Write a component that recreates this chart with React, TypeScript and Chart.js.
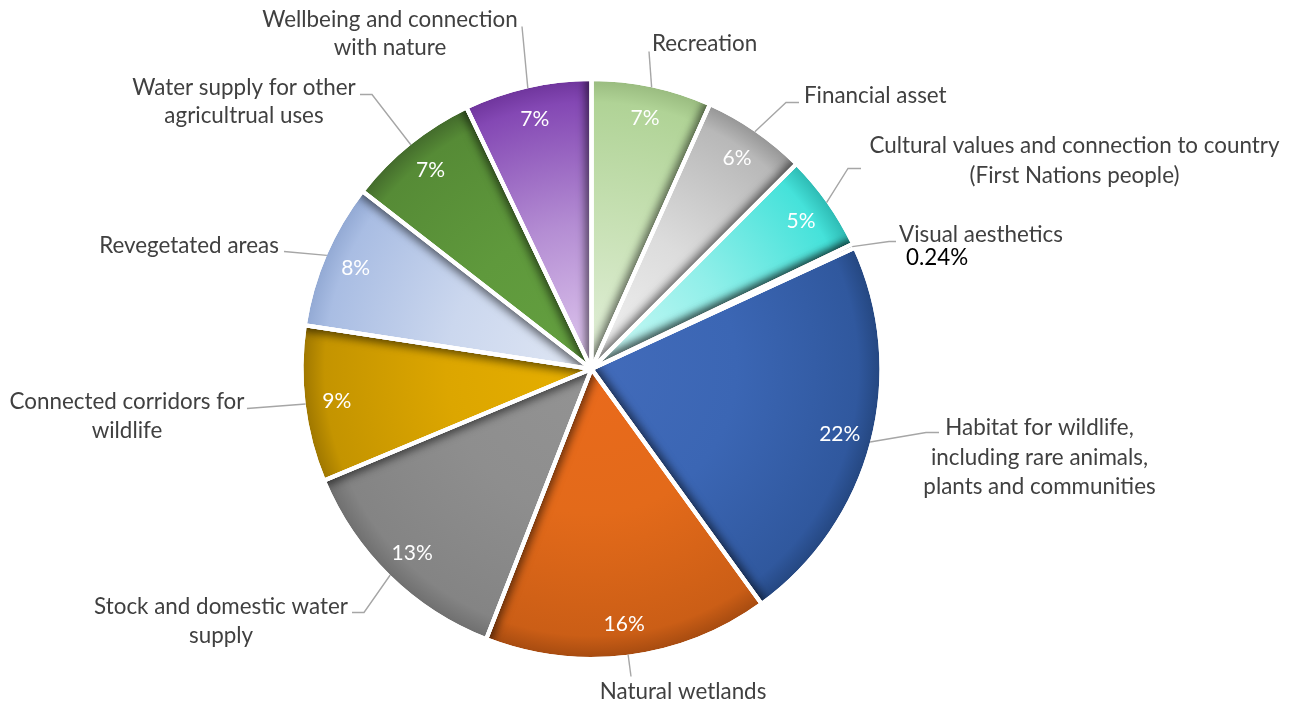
import React, { useEffect, useRef } from "react";
import { Chart, registerables } from "chart.js";

Chart.register(...registerables);

// ---------- data ----------
const CATEGORIES: string[] = [
  "Recreation",
  "Financial asset",
  "Cultural values and connection to country (First Nations people)",
  "Visual aesthetics",
  "Habitat for wildlife, including rare animals, plants and communities",
  "Natural wetlands",
  "Stock and domestic water supply",
  "Connected corridors for wildlife",
  "Revegetated areas",
  "Water supply for other agricultrual uses",
  "Wellbeing and connection with nature",
];
const VALUES: number[] = [6.7, 5.8, 5.4, 0.24, 21.9, 15.9, 12.8, 8.7, 8.1, 7.4, 7.1];

// label text as wrapped in the chart
const LABEL_LINES: string[][] = [
  ["Recreation"],
  ["Financial asset"],
  ["Cultural values and connection to country", "(First Nations people)"],
  ["Visual aesthetics"],
  ["Habitat for wildlife,", "including rare animals,", "plants and communities"],
  ["Natural wetlands"],
  ["Stock and domestic water", "supply"],
  ["Connected corridors for", "wildlife"],
  ["Revegetated areas"],
  ["Water supply for other", "agricultrual uses"],
  ["Wellbeing and connection", "with nature"],
];

// ---------- styles ----------
// radial gradient stops: centre -> rim
const STOPS: string[][] = [
  ["#e4f0dc", "#c8e1b5", "#b0d396", "#98ba7e"],
  ["#f3f3f3", "#dcdcdc", "#b8b8b8", "#949494"],
  ["#d3faf7", "#90efe9", "#45e2da", "#2cb8b1"],
  ["#4a74c0", "#3d66b0", "#2f5597", "#22406f"],
  ["#426bba", "#3b66b4", "#30589e", "#24467f"],
  ["#ea6a1c", "#e36a1a", "#cb5e16", "#a44a10"],
  ["#939393", "#8e8e8e", "#848484", "#6e6e6e"],
  ["#e6af00", "#dca600", "#c49400", "#9c7500"],
  ["#e0e7f4", "#cbd7ee", "#a9bde3", "#91a8d3"],
  ["#64a040", "#5f993c", "#568b36", "#42692b"],
  ["#e2ccf0", "#b48dd3", "#8448b4", "#6e349b"],
];
const STOP_POS = [0, 0.5, 0.92, 1];

// label layout: offsets (px) from pie centre
type Layout = { path: number[][]; x: number; ys: number[]; align: CanvasTextAlign };
const LAYOUT: Layout[] = [
  { path: [[57.5, -317.5]], x: 60.5, ys: [-325.5], align: "left" },
  { path: [[194.5, -266.5], [207.5, -266.5]], x: 212.5, ys: [-273.5], align: "left" },
  { path: [[256.5, -200.5], [269.5, -200.5]], x: 483, ys: [-223.5, -193.5], align: "center" },
  { path: [[297.5, -127.5], [304.5, -127.5]], x: 307.5, ys: [-134.5], align: "left" },
  { path: [[334.5, 63.5], [347.5, 63.5]], x: 448, ys: [58.5, 88.5, 117.5], align: "center" },
  { path: [[39.5, 307.5]], x: 91.5, ys: [322.5], align: "center" },
  { path: [[-227.5, 243.5], [-239.5, 243.5]], x: -370.5, ys: [237.5, 266.5], align: "center" },
  { path: [[-344.5, 39.5]], x: -464.5, ys: [32.5, 61.5], align: "center" },
  { path: [[-307.5, -117.5]], x: -402.5, ys: [-123.5], align: "center" },
  { path: [[-219.5, -274.5], [-231.5, -274.5]], x: -347.5, ys: [-281.5, -253.5], align: "center" },
  { path: [[-69.5, -342.5]], x: -201.5, ys: [-349.5, -321.5], align: "center" },
];
const SMALL_VALUE_OFFSET = { x: 314.5, y: -111.5 }; // "0.24%" under Visual aesthetics

const FONT_FAMILY = "Lato, 'Liberation Sans', sans-serif";
const LABEL_FONT = 22.4;
const PCT_FONT = 21;
const BORDER = 4;

function pctText(v: number, total: number): string {
  const p = (v / total) * 100;
  return p < 1 ? p.toFixed(2) + "%" : Math.round(p) + "%";
}

function sliceFill(ctx: any) {
  const chart = ctx.chart;
  const area = chart.chartArea;
  const i = ctx.dataIndex;
  if (!area || i === undefined) return STOPS[i ?? 0][2];
  const ctrl: any = chart.getDatasetMeta(0).controller;
  const cx = (area.left + area.right) / 2 + (ctrl.offsetX || 0);
  const cy = (area.top + area.bottom) / 2 + (ctrl.offsetY || 0);
  const r = ctrl.outerRadius || Math.min(area.width, area.height) / 2;
  const g = chart.ctx.createRadialGradient(cx, cy, 0, cx, cy, r);
  STOPS[i].forEach((c, k) => g.addColorStop(STOP_POS[k], c));
  return g;
}

const shadowPlugin = {
  id: "sliceShadows",
  afterDatasetsDraw(chart: any) {
    const ctx: CanvasRenderingContext2D = chart.ctx;
    const arcs: any[] = chart.getDatasetMeta(0).data;
    const n = arcs.length;
    for (let i = 0; i < n; i++) {
      const el = arcs[i];
      const p = el.getProps(["x", "y", "startAngle", "outerRadius"], true);
      // clip region: counter-clockwise neighbours up to ~0.12 rad
      let j = (i - 1 + n) % n;
      let from = arcs[j].getProps(["startAngle"], true).startAngle;
      let span = p.startAngle - from;
      if (span < 0) span += Math.PI * 2;
      if (span < 0.12) {
        j = (j - 1 + n) % n;
        from = arcs[j].getProps(["startAngle"], true).startAngle;
      }
      let to = p.startAngle;
      if (to < from) to += Math.PI * 2;
      const dx = Math.sin(p.startAngle);
      const dy = -Math.cos(p.startAngle);
      ctx.save();
      ctx.beginPath();
      ctx.moveTo(p.x, p.y);
      ctx.arc(p.x, p.y, p.outerRadius - BORDER / 2, from, to);
      ctx.closePath();
      ctx.clip();
      ctx.shadowColor = "rgba(0,0,0,0.55)";
      ctx.shadowBlur = 10;
      ctx.shadowOffsetX = dx * 3;
      ctx.shadowOffsetY = dy * 3;
      el.draw(ctx);
      ctx.restore();
    }
    // repaint the white separators on top of the shadows
    arcs.forEach((el) => {
      const opts = el.options;
      const fill = opts.backgroundColor;
      opts.backgroundColor = "rgba(0,0,0,0)";
      ctx.save();
      el.draw(ctx);
      ctx.restore();
      opts.backgroundColor = fill;
    });
  },
};

const labelPlugin = {
  id: "sliceLabels",
  afterDraw(chart: any) {
    const ctx: CanvasRenderingContext2D = chart.ctx;
    const arcs: any[] = chart.getDatasetMeta(0).data;
    const data: number[] = chart.data.datasets[0].data;
    const total = data.reduce((a, b) => a + b, 0);
    ctx.save();
    arcs.forEach((el, i) => {
      const p = el.getProps(["x", "y", "startAngle", "endAngle", "outerRadius"], true);
      const mid = (p.startAngle + p.endAngle) / 2;
      const cx = p.x;
      const cy = p.y;
      const rim = p.outerRadius - BORDER / 2;
      const lay = LAYOUT[i];
      // leader line
      ctx.strokeStyle = "#a6a6a6";
      ctx.lineWidth = 1.4;
      ctx.beginPath();
      ctx.moveTo(cx + Math.cos(mid) * rim, cy + Math.sin(mid) * rim);
      lay.path.forEach(([x, y]) => ctx.lineTo(cx + x, cy + y));
      ctx.stroke();
      // category label
      ctx.fillStyle = "#404040";
      ctx.font = `${LABEL_FONT}px ${FONT_FAMILY}`;
      ctx.textAlign = lay.align;
      ctx.textBaseline = "alphabetic";
      LABEL_LINES[i].forEach((line, k) => {
        ctx.fillText(line, cx + lay.x, cy + lay.ys[k] + LABEL_FONT * 0.35);
      });
      // percentage
      const txt = pctText(data[i], total);
      if ((data[i] / total) * 100 < 1) {
        ctx.fillStyle = "#000000";
        ctx.textAlign = "left";
        ctx.fillText(txt, cx + SMALL_VALUE_OFFSET.x, cy + SMALL_VALUE_OFFSET.y + LABEL_FONT * 0.35);
      } else {
        const r = p.outerRadius * 0.885;
        ctx.fillStyle = "#ffffff";
        ctx.font = `${PCT_FONT}px ${FONT_FAMILY}`;
        ctx.textAlign = "center";
        ctx.fillText(txt, cx + Math.cos(mid) * r, cy + Math.sin(mid) * r + PCT_FONT * 0.35);
      }
    });
    ctx.restore();
  },
};

export default function App() {
  const ref = useRef<HTMLCanvasElement | null>(null);
  useEffect(() => {
    document.body.style.margin = "0";
    const canvas = ref.current;
    if (!canvas) return;
    const chart = new Chart(canvas, {
      type: "pie",
      data: {
        labels: CATEGORIES,
        datasets: [
          {
            data: VALUES,
            backgroundColor: sliceFill as any,
            borderColor: "#ffffff",
            borderWidth: BORDER,
          },
        ],
      },
      options: {
        responsive: false,
        animation: false,
        events: [],
        layout: { padding: { left: 299, top: 77, right: 411, bottom: 43 } },
        plugins: {
          legend: { display: false },
          tooltip: { enabled: false },
        },
      },
      plugins: [shadowPlugin, labelPlugin],
    });
    return () => chart.destroy();
  }, []);
  return (
    <div style={{ width: 1295, height: 704, background: "#ffffff" }}>
      <canvas ref={ref} width={1295} height={704} style={{ display: "block", width: 1295, height: 704 }} />
    </div>
  );
}
